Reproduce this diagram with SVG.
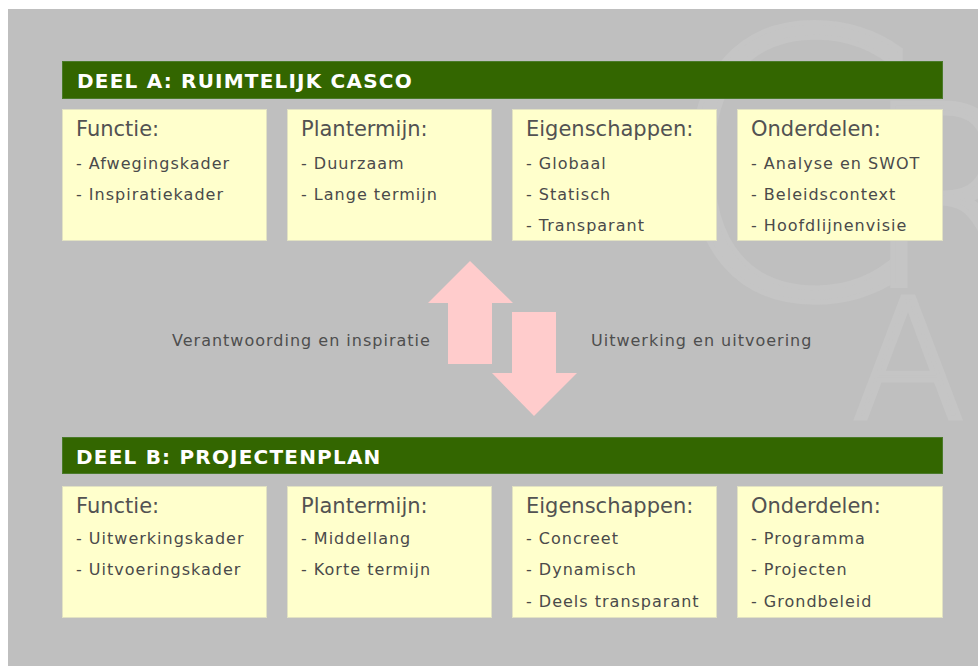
<svg xmlns="http://www.w3.org/2000/svg" width="978" height="666" viewBox="0 0 978 666">
<style>
.bar{fill:#336600;stroke:#4a7a2a;stroke-width:1}
.title{font-family:"DejaVu Sans",Verdana,sans-serif;font-weight:bold;font-size:20px;fill:#ffffff;letter-spacing:1.2px}
.box{fill:#ffffcc;stroke:#e2e2c2;stroke-width:1}
.head{font-family:"DejaVu Sans",Verdana,sans-serif;font-size:21px;fill:#525252}
.item{font-family:"DejaVu Sans",Verdana,sans-serif;font-size:16px;fill:#4a4a4a;letter-spacing:1px}
.lbl{font-family:"DejaVu Sans",Verdana,sans-serif;font-size:16px;fill:#4e4e4e;letter-spacing:1px}
.arrow{fill:#ffcccc}
.wm{font-family:"DejaVu Sans",sans-serif;font-weight:200;fill:#c5c5c5;stroke:#c5c5c5;stroke-width:5}
</style>
<rect x="0" y="0" width="978" height="666" fill="#ffffff"/>
<rect x="8" y="9" width="970" height="657" fill="#bfbfbf"/>
<g id="watermark">
<text class="wm" x="662" y="297" font-size="370">C</text>
<text class="wm" x="862" y="285" font-size="250">R</text>
<text class="wm" x="852" y="418" font-size="165">A</text>
</g>
<g id="deelA">
<rect class="bar" x="62.5" y="61.5" width="880" height="37"/>
<text class="title" x="77" y="87.5">DEEL A: RUIMTELIJK CASCO</text>
</g>
<g id="a-functie">
<rect class="box" x="62.5" y="109.5" width="204" height="131"/>
<text class="head" x="76" y="136">Functie:</text>
<text class="item" x="76" y="169">- Afwegingskader</text>
<text class="item" x="76" y="200">- Inspiratiekader</text>
</g>
<g id="a-plantermijn">
<rect class="box" x="287.5" y="109.5" width="204" height="131"/>
<text class="head" x="301" y="136">Plantermijn:</text>
<text class="item" x="301" y="169">- Duurzaam</text>
<text class="item" x="301" y="200">- Lange termijn</text>
</g>
<g id="a-eigenschappen">
<rect class="box" x="512.5" y="109.5" width="204" height="131"/>
<text class="head" x="526" y="136">Eigenschappen:</text>
<text class="item" x="526" y="169">- Globaal</text>
<text class="item" x="526" y="200">- Statisch</text>
<text class="item" x="526" y="231">- Transparant</text>
</g>
<g id="a-onderdelen">
<rect class="box" x="737.5" y="109.5" width="205" height="131"/>
<text class="head" x="751" y="136">Onderdelen:</text>
<text class="item" x="751" y="169">- Analyse en SWOT</text>
<text class="item" x="751" y="200">- Beleidscontext</text>
<text class="item" x="751" y="231">- Hoofdlijnenvisie</text>
</g>
<g id="connectors">
<polygon class="arrow" points="470,261 513,303 492,303 492,364 448,364 448,303 428,303"/>
<polygon class="arrow" points="512,312 556,312 556,373 577,373 534,416 492,373 512,373"/>
<text class="lbl" x="172" y="346">Verantwoording en inspiratie</text>
<text class="lbl" x="591" y="346">Uitwerking en uitvoering</text>
</g>
<g id="deelB">
<rect class="bar" x="62.5" y="437.5" width="880" height="36"/>
<text class="title" x="76" y="464">DEEL B: PROJECTENPLAN</text>
</g>
<g id="b-functie">
<rect class="box" x="62.5" y="486.5" width="204" height="131"/>
<text class="head" x="76" y="513">Functie:</text>
<text class="item" x="76" y="544">- Uitwerkingskader</text>
<text class="item" x="76" y="575">- Uitvoeringskader</text>
</g>
<g id="b-plantermijn">
<rect class="box" x="287.5" y="486.5" width="204" height="131"/>
<text class="head" x="301" y="513">Plantermijn:</text>
<text class="item" x="301" y="544">- Middellang</text>
<text class="item" x="301" y="575">- Korte termijn</text>
</g>
<g id="b-eigenschappen">
<rect class="box" x="512.5" y="486.5" width="204" height="131"/>
<text class="head" x="526" y="513">Eigenschappen:</text>
<text class="item" x="526" y="544">- Concreet</text>
<text class="item" x="526" y="575">- Dynamisch</text>
<text class="item" x="526" y="607">- Deels transparant</text>
</g>
<g id="b-onderdelen">
<rect class="box" x="737.5" y="486.5" width="205" height="131"/>
<text class="head" x="751" y="513">Onderdelen:</text>
<text class="item" x="751" y="544">- Programma</text>
<text class="item" x="751" y="575">- Projecten</text>
<text class="item" x="751" y="607">- Grondbeleid</text>
</g>
</svg>
